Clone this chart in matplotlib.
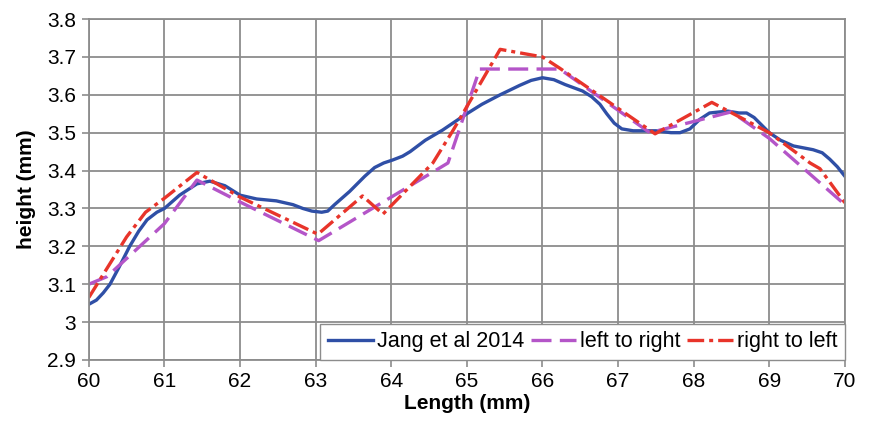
import matplotlib
matplotlib.use("Agg")
import matplotlib.pyplot as plt

plt.rcParams["font.family"] = ["Liberation Sans", "DejaVu Sans"]

# Jang et al 2014 (smooth measured profile)
jang_x = [60.0, 60.1, 60.19, 60.28, 60.4, 60.54, 60.66, 60.77, 60.9, 61.0, 61.2, 61.43,
          61.6, 61.8, 62.0, 62.22, 62.48, 62.7, 62.83, 62.95, 63.08, 63.16, 63.25,
          63.45, 63.65, 63.78, 63.9, 64.02, 64.15, 64.25, 64.45, 64.68, 64.85, 65.0,
          65.2, 65.44, 65.7, 65.85, 66.0, 66.15, 66.3, 66.53, 66.65, 66.76, 66.85,
          66.95, 67.05, 67.2, 67.5, 67.7, 67.82, 67.95, 68.08, 68.21, 68.45, 68.6,
          68.7, 68.8, 68.9, 69.0, 69.15, 69.32, 69.45, 69.58, 69.7, 69.8, 69.9, 70.0]
jang_y = [3.047, 3.058, 3.077, 3.10, 3.145, 3.20, 3.24, 3.27, 3.29, 3.30, 3.335, 3.365,
          3.372, 3.36, 3.335, 3.325, 3.32, 3.31, 3.30, 3.293, 3.29, 3.293, 3.31,
          3.345, 3.385, 3.408, 3.42, 3.428, 3.438, 3.45, 3.48, 3.507, 3.53, 3.55,
          3.575, 3.60, 3.625, 3.638, 3.645, 3.64, 3.627, 3.61, 3.595, 3.575, 3.55,
          3.525, 3.51, 3.505, 3.505, 3.50, 3.50, 3.51, 3.535, 3.552, 3.557, 3.552,
          3.552, 3.54, 3.52, 3.50, 3.48, 3.465, 3.46, 3.455, 3.447, 3.43, 3.41, 3.385]

# left to right
ltr_x = [60.0, 60.24, 61.0, 61.43, 62.0, 63.04, 64.0, 64.75, 65.17, 66.23, 67.42,
         68.5, 69.0, 70.0]
ltr_y = [3.10, 3.12, 3.26, 3.375, 3.317, 3.215, 3.33, 3.42, 3.668, 3.668, 3.50,
         3.555, 3.485, 3.31]

# right to left
rtl_x = [60.0, 60.5, 60.75, 61.0, 61.43, 62.0, 63.03, 63.62, 63.89, 64.55, 64.82,
         65.44, 66.0, 66.23, 67.49, 68.24, 69.0, 69.54, 69.67, 70.0]
rtl_y = [3.065, 3.225, 3.29, 3.327, 3.395, 3.33, 3.232, 3.333, 3.285, 3.42, 3.507,
         3.72, 3.70, 3.67, 3.497, 3.58, 3.50, 3.42, 3.405, 3.315]

fig = plt.figure(figsize=(8.71, 4.23), dpi=100)
ax = fig.add_axes([0.102, 0.149, 0.868, 0.806])

ax.plot(jang_x, jang_y, color="#2F4FA6", linewidth=2.4, label="Jang et al 2014",
        solid_joinstyle="round")
ax.plot(ltr_x, ltr_y, color="#B455C8", linewidth=2.4, linestyle=(0, (6, 2.5)),
        label="left to right")
ax.plot(rtl_x, rtl_y, color="#E8342A", linewidth=2.4, linestyle=(0, (5, 1.5, 1.2, 1.5)),
        label="right to left")

ax.set_xlim(60, 70)
ax.set_ylim(2.9, 3.8)
ax.set_xticks(range(60, 71))
ax.set_yticks([2.9, 3.0, 3.1, 3.2, 3.3, 3.4, 3.5, 3.6, 3.7, 3.8])
ax.set_yticklabels(["2.9", "3", "3.1", "3.2", "3.3", "3.4", "3.5", "3.6", "3.7", "3.8"])

ax.grid(True, color="#8C8C8C", linewidth=1.3)
ax.set_axisbelow(True)
for s in ax.spines.values():
    s.set_color("#8C8C8C")
    s.set_linewidth(1.3)
ax.tick_params(axis="both", labelsize=15, color="#8C8C8C", length=5, width=1.2,
               direction="out", pad=4)

ax.set_xlabel("Length (mm)", fontsize=15, fontweight="bold", labelpad=2)
ax.set_ylabel("height (mm)", fontsize=15, fontweight="bold", labelpad=8)

leg = ax.legend(loc="lower right", ncol=3, fontsize=15.5, frameon=True, fancybox=False,
                borderaxespad=0, handlelength=2.1, columnspacing=0.3,
                handletextpad=0.2, borderpad=0.35, framealpha=1)
leg.get_frame().set_edgecolor("#8C8C8C")
leg.get_frame().set_linewidth(1.0)

fig.savefig("out.png", dpi=100, facecolor="white")
